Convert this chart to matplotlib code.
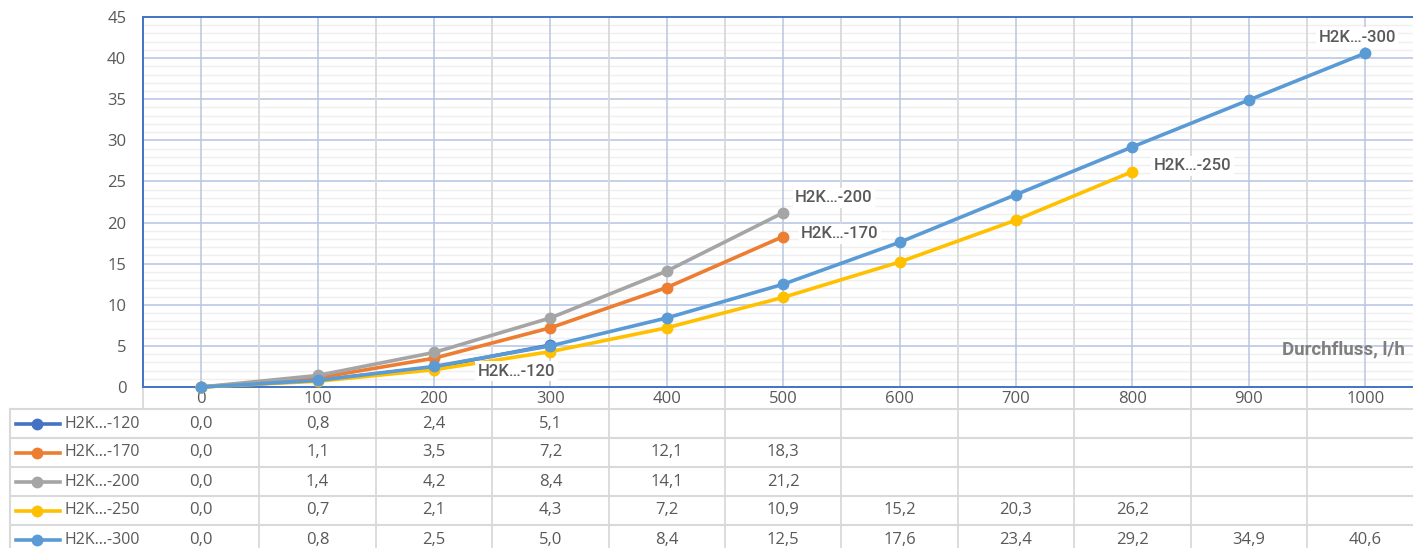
import matplotlib
matplotlib.use("Agg")
import matplotlib.pyplot as plt
import matplotlib.transforms as mtransforms
from matplotlib.lines import Line2D

# data
flow = [0, 100, 200, 300, 400, 500, 600, 700, 800, 900, 1000]
names = ["H2K…-120", "H2K…-170", "H2K…-200", "H2K…-250", "H2K…-300"]
h120 = [0.0, 0.8, 2.4, 5.1]
h170 = [0.0, 1.1, 3.5, 7.2, 12.1, 18.3]
h200 = [0.0, 1.4, 4.2, 8.4, 14.1, 21.2]
h250 = [0.0, 0.7, 2.1, 4.3, 7.2, 10.9, 15.2, 20.3, 26.2]
h300 = [0.0, 0.8, 2.5, 5.0, 8.4, 12.5, 17.6, 23.4, 29.2, 34.9, 40.6]
series = [h120, h170, h200, h250, h300]
colors = ["#4472C4", "#ED7D31", "#A5A5A5", "#FFC000", "#5B9BD5"]
# (dx, dy) pixel offsets of the data labels from the last point, and alignment
lab_off = [(-34, -26, "center"), (18, 3, "left"), (12, 15, "left"),
           (21, 6, "left"), (-8, 16, "center")]

W, H = 1413, 548
TXT = "#595959"
plt.rcParams["font.family"] = ["Open Sans", "DejaVu Sans"]

fig = plt.figure(figsize=(W / 100, H / 100), dpi=100)
fig.patch.set_facecolor("white")

# plot area in pixels: left 143, top 17, bottom 387, 116.4 px per category
left, top, bottom, step = 143, 17, 387, 116.4
ax = fig.add_axes([left / W, (H - bottom) / H, 11 * step / W, (bottom - top) / H])
ax.set_xlim(-0.5, 10.5)
ax.set_ylim(0, 45)

# grid
for v in range(1, 45):
    if v % 5:
        ax.axhline(v, color="#EFEFEF", lw=1, zorder=0)
for v in range(5, 45, 5):
    ax.axhline(v, color="#BFCDE8", lw=1.3, zorder=0)
for i in range(len(flow)):
    ax.axvline(i, color="#BAC6DE", lw=1.1, zorder=0)

for spine in ["left", "top", "bottom"]:
    ax.spines[spine].set_color("#4472C4")
    ax.spines[spine].set_linewidth(1.4)
ax.spines["right"].set_visible(False)

ax.set_yticks(range(0, 46, 5))
ax.set_xticks(range(len(flow)))
ax.set_xticklabels([str(f) for f in flow])
ax.tick_params(axis="y", length=0, pad=12, labelsize=12, labelcolor=TXT)
ax.tick_params(axis="x", length=0, pad=3, labelsize=12, labelcolor=TXT)

# lines
for vals, col in zip(series, colors):
    ax.plot(range(len(vals)), vals, color=col, lw=2.6, marker="o", ms=7.5,
            solid_capstyle="round", zorder=3, clip_on=False)

# data labels at the end of each series
for vals, name, (dx, dy, ha) in zip(series, names, lab_off):
    ax.annotate(name, (len(vals) - 1, vals[-1]), xytext=(dx, dy),
                textcoords="offset pixels", ha=ha, va="center",
                fontsize=12, color=TXT, family=["Roboto", "DejaVu Sans"],
                fontweight="medium", zorder=5,
                bbox=dict(boxstyle="square,pad=0.15", fc="white", ec="none"))

fig.text(1405 / W, (H - 349) / H, "Durchfluss, l/h", ha="right", va="center",
         fontsize=13.5, color="#7F7F7F", fontweight="bold",
         family=["Roboto", "DejaVu Sans"])

# data table below the axis
tr = mtransforms.blended_transform_factory(ax.transData, fig.transFigure)
def fy(px):
    return (H - px) / H

grid_c = "#D9D9D9"
# category boundaries continue from the plot through the table
for i in range(len(flow)):
    b = i + 0.5
    ax.add_line(Line2D([b, b], [fy(top), fy(H + 5)], transform=tr, color=grid_c,
                       lw=1.3, zorder=0, clip_on=False))
ax.add_line(Line2D([-0.5, -0.5], [fy(bottom), fy(409)], transform=tr, color=grid_c,
                   lw=1.3, clip_on=False))

row_lines = [409, 438, 467, 496, 525]
for y in row_lines:
    fig.add_artist(Line2D([10 / W, 1], [fy(y), fy(y)], color=grid_c, lw=1.5))
fig.add_artist(Line2D([10 / W, 10 / W], [fy(409), 0], color=grid_c, lw=1.5))

for r, (vals, name, col) in enumerate(zip(series, names, colors)):
    yc = row_lines[r] + 14.5
    fig.add_artist(Line2D([16 / W, 60 / W], [fy(yc), fy(yc)], color=col, lw=2.6))
    fig.add_artist(Line2D([37 / W], [fy(yc)], color=col, marker="o", ms=7.5, lw=0))
    fig.text(64 / W, fy(yc), name, ha="left", va="center", fontsize=11.5,
             color=TXT)
    for i, v in enumerate(vals):
        ax.text(i, fy(yc), f"{v:.1f}".replace(".", ","), transform=tr,
                ha="center", va="center", fontsize=12, color=TXT, clip_on=False)

fig.savefig("out.png", dpi=100)
